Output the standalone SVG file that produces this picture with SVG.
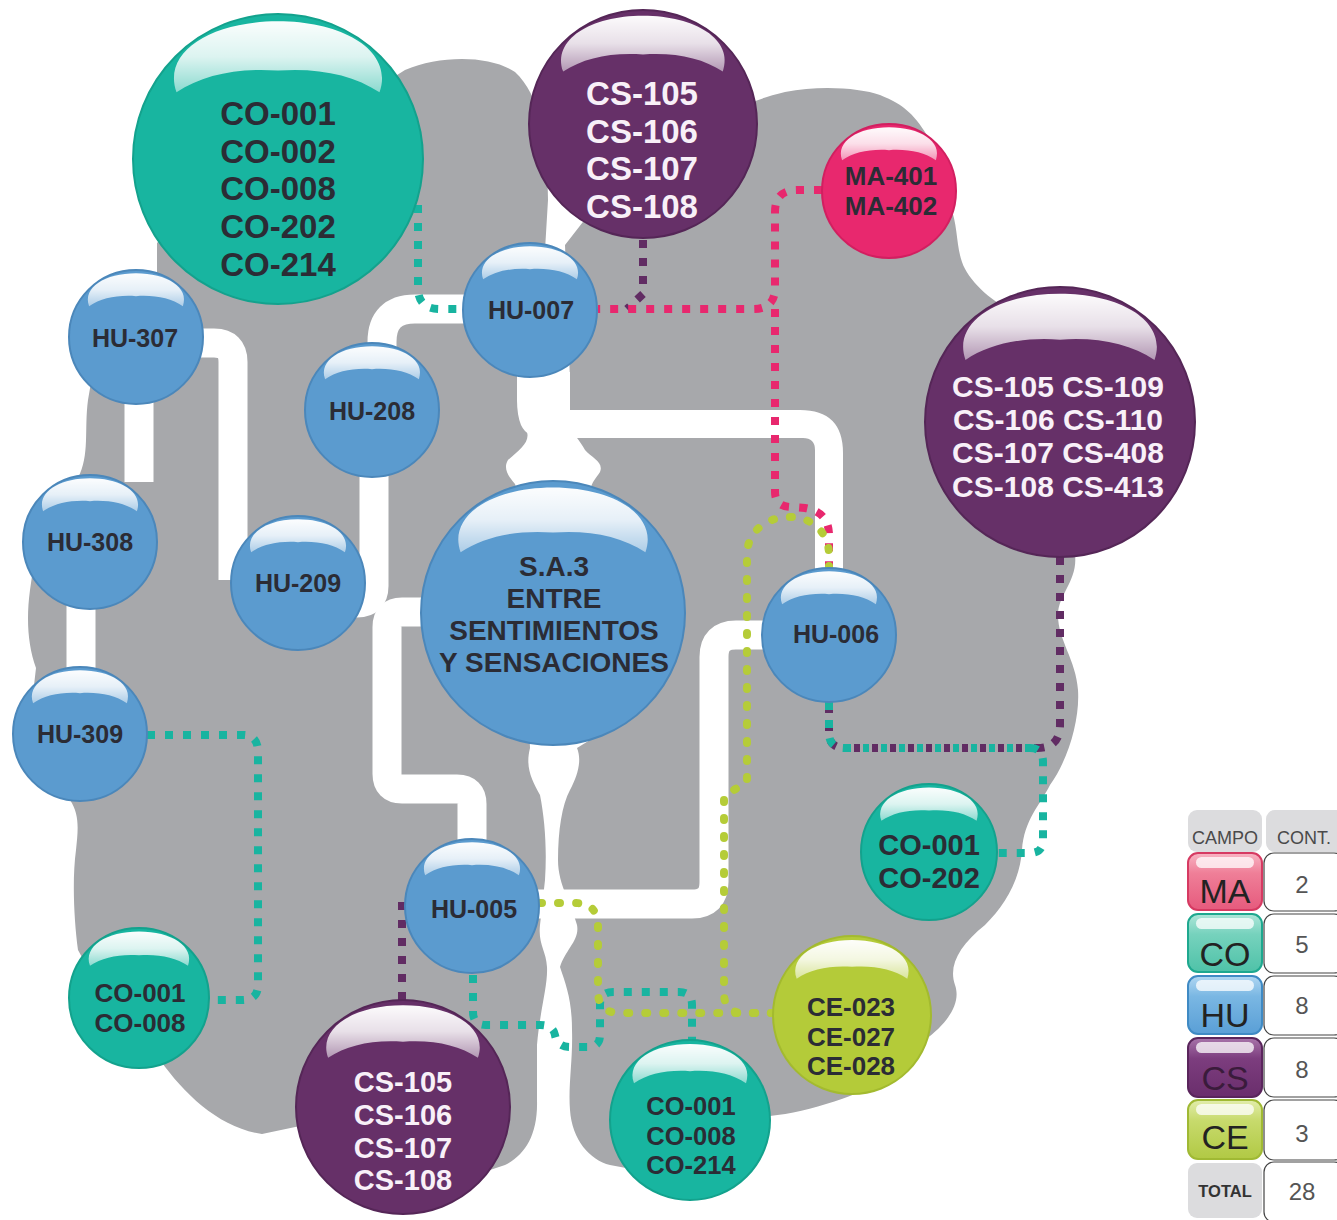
<svg xmlns="http://www.w3.org/2000/svg" width="1337" height="1220" viewBox="0 0 1337 1220">
<style>
.brain{fill:#a7a8ab}
.pipe{fill:none;stroke:#fff;stroke-width:29}
.dot{fill:none;stroke-width:8;stroke-dasharray:8 10}
.tl{stroke:#18b4a0}.pu{stroke:#612c63}.mg{stroke:#e8286e}.lm{stroke:#b5cc38;stroke-linecap:round;stroke-dasharray:2 16}
.hu{fill:#5b9bcf;stroke:#4b87ba;stroke-width:2}
.co{fill:#18b5a0;stroke:#13a28d;stroke-width:2}
.cs{fill:#663068;stroke:#552657;stroke-width:2}
.ma{fill:#e8286e;stroke:#d21f60;stroke-width:2}
.ce{fill:#b4cb39;stroke:#a3ba2f;stroke-width:2}
text{font-family:"Liberation Sans",Arial,sans-serif;font-weight:bold;text-anchor:middle;fill:#2b2c35}
.w{fill:#f8f0f8}
.lg{font-weight:normal;font-size:34px;fill:#222}
.hd{font-weight:normal;font-size:18px;fill:#4a4a4a}
.num{font-weight:normal;font-size:24px;fill:#555}
.cell{fill:#fff;stroke:#444;stroke-width:1.2}
.head{fill:#dcdcde}
.shine{fill:#fff;opacity:.75}
</style>
<defs>
<linearGradient id="hlg" x1="0" y1="0" x2="0" y2="1">
<stop offset="0" stop-color="#fff" stop-opacity="0.98"/>
<stop offset="0.5" stop-color="#fff" stop-opacity="0.85"/>
<stop offset="1" stop-color="#fff" stop-opacity="0.5"/>
</linearGradient>
<path id="hl" d="M -70,-46 C -80,-74 -46,-95 0,-95 C 46,-95 80,-74 70,-46 C 52,-58 28,-63 0,-61 C -28,-63 -52,-58 -70,-46 Z" fill="url(#hlg)"/>
<linearGradient id="gMA" x1="0" y1="0" x2="0" y2="1"><stop offset="0" stop-color="#f8b4c3"/><stop offset="0.35" stop-color="#ef7f98"/><stop offset="1" stop-color="#e65a7d"/></linearGradient>
<linearGradient id="gCO" x1="0" y1="0" x2="0" y2="1"><stop offset="0" stop-color="#aee6d9"/><stop offset="0.35" stop-color="#76d2bd"/><stop offset="1" stop-color="#4fc2a8"/></linearGradient>
<linearGradient id="gHU" x1="0" y1="0" x2="0" y2="1"><stop offset="0" stop-color="#b0d7f2"/><stop offset="0.35" stop-color="#7ab7e3"/><stop offset="1" stop-color="#5a9fd6"/></linearGradient>
<linearGradient id="gCS" x1="0" y1="0" x2="0" y2="1"><stop offset="0" stop-color="#a874aa"/><stop offset="0.35" stop-color="#7c3d7e"/><stop offset="1" stop-color="#6a2e6c"/></linearGradient>
<linearGradient id="gCE" x1="0" y1="0" x2="0" y2="1"><stop offset="0" stop-color="#e2edac"/><stop offset="0.35" stop-color="#c7da6c"/><stop offset="1" stop-color="#b1c944"/></linearGradient>
</defs>

<g id="background">
<path class="brain" d="M 157,243 L 157,278 L 100,330 L 88,400 C 84,430 90,455 78,478 L 40,520 L 30,590 C 26,620 28,645 36,668 L 30,720 L 70,800 C 80,815 78,830 76,850 C 72,880 74,920 78,950 L 100,990 L 160,1060 C 185,1095 220,1128 262,1134 L 300,1126 L 400,1200 L 505,1165 C 525,1155 538,1135 537,1100 L 537,1045 C 540,1010 548,985 547,967 C 546,950 538,945 540,925 L 545,880 C 547,850 545,820 540,795 C 532,780 525,768 530,748 L 520,500 L 515,484 C 508,476 503,468 508,460 C 520,450 530,442 527,432 L 517,400 L 545,250 L 548,200 C 548,140 540,95 515,72 C 490,55 440,55 405,70 L 200,200 Z"/>
<path class="brain" d="M 565,245 L 570,380 L 570,420 C 572,435 580,440 585,450 C 592,458 604,462 600,472 C 596,478 592,482 590,490 L 590,740 L 577,748 C 582,760 578,775 570,790 C 562,805 558,830 558,860 C 558,885 572,905 577,925 C 580,940 565,950 560,967 C 566,985 572,1000 572,1030 C 573,1060 568,1085 570,1110 C 572,1140 590,1160 610,1165 L 690,1180 L 770,1116 C 810,1112 860,1095 895,1075 L 925,1040 C 945,1025 962,1005 955,985 C 948,965 960,945 985,925 C 1005,905 1020,880 1022,850 C 1024,820 1040,805 1050,785 C 1068,760 1080,720 1078,690 C 1076,660 1058,640 1058,615 C 1058,595 1078,580 1075,555 L 1010,310 C 990,300 968,280 962,262 C 956,245 958,225 950,205 L 930,140 C 915,115 905,105 880,95 C 860,88 820,85 785,92 C 760,98 748,104 740,108 L 600,200 Z"/>
</g>

<g id="connectors">
<path class="pipe" d="M 198,343 H 214 Q 233,343 233,362 V 580" stroke-width="30"/>
<path class="pipe" d="M 139,398 V 482"/>
<path class="pipe" d="M 81,604 V 672" stroke-width="28"/>
<path class="pipe" d="M 374,470 V 586 Q 374,603 357,603 H 350" stroke-width="28"/>
<path class="pipe" d="M 382,360 V 342 Q 382,309 415,309 H 470" stroke-width="30"/>
<path d="M 517,372 H 570 V 410 H 800 Q 843,410 843,453 V 578 H 815 V 450 Q 815,438 803,438 H 545 Q 527,438 521,425 Q 517,415 517,400 Z" fill="#fff"/>
<path class="pipe" d="M 430,612 H 402 Q 387,612 387,627 V 774 Q 387,789 402,789 H 457 Q 472,789 472,804 V 850"/>
<path class="pipe" d="M 770,635 H 736 Q 714,635 714,657 V 882 Q 714,904 692,904 H 530"/>

<path class="dot tl" d="M 418,205 V 288 Q 418,309 440,309 H 465"/>
<path class="dot pu" d="M 643,240 V 294 L 627,309"/>
<path class="dot mg" d="M 822,190 H 797 Q 775,190 775,212 V 288 Q 775,309 753,309 H 598"/>
<path class="dot mg" d="M 775,309 V 492 Q 775,507 792,507 L 805,508 Q 829,512 829,535 V 570"/>
<path class="dot tl" d="M 147,735 H 243 Q 258,735 258,752 V 985 Q 258,1000 242,1000 H 209"/>
<path class="dot pu" d="M 402,902 V 1002"/>
<path class="dot tl" d="M 473,975 V 1012 Q 473,1025 486,1025 H 540 Q 553,1025 555,1035 Q 557,1047 570,1047 H 588 Q 600,1047 600,1035 V 1005 Q 600,992 613,992 H 679 Q 692,992 692,1005 V 1040"/>
<path class="dot pu" d="M 1060,557 V 725 Q 1060,748 1037,748"/>
<path class="dot pu" d="M 854,748 H 1037" style="stroke-dasharray:6 12"/>
<path class="dot pu" d="M 845,748 Q 829,748 829,733 V 702" style="stroke-dashoffset:9"/>
<path class="dot tl" d="M 829,702 V 733 Q 829,748 845,748"/>
<path class="dot tl" d="M 845,748 H 1030" style="stroke-dasharray:6 12"/>
<path class="dot tl" d="M 1030,748 Q 1043,748 1043,762 V 840 Q 1043,853 1030,853 H 997"/>
<path class="dot lm" d="M 829,568 V 555 C 829,532 812,517 789,517 C 766,517 747,532 747,555 V 782 L 724,796 V 993 Q 724,1013 744,1013 H 772"/>
<path class="dot lm" d="M 540,903 H 575 Q 598,903 598,926 V 992 Q 598,1013 620,1013 H 772"/>
</g>

<g id="node-co-top"><circle class="co" cx="278" cy="159" r="145"/><use href="#hl" transform="translate(278 159) scale(1.45)"/>
<text font-size="33"><tspan x="278" y="125">CO-001</tspan><tspan x="278" y="163">CO-002</tspan><tspan x="278" y="200">CO-008</tspan><tspan x="278" y="238">CO-202</tspan><tspan x="278" y="276">CO-214</tspan></text></g>

<g id="node-cs-top"><circle class="cs" cx="643" cy="124" r="114"/><use href="#hl" transform="translate(643 124) scale(1.14)"/>
<text class="w" font-size="33"><tspan x="642" y="105">CS-105</tspan><tspan x="642" y="143">CS-106</tspan><tspan x="642" y="180">CS-107</tspan><tspan x="642" y="218">CS-108</tspan></text></g>

<g id="node-ma"><circle class="ma" cx="889" cy="191" r="67"/><use href="#hl" transform="translate(889 191) scale(0.67)"/>
<text font-size="26"><tspan x="891" y="185">MA-401</tspan><tspan x="891" y="215">MA-402</tspan></text></g>

<g id="node-cs-right"><circle class="cs" cx="1060" cy="422" r="135"/><use href="#hl" transform="translate(1060 422) scale(1.35)"/>
<text class="w" font-size="30"><tspan x="1058" y="397">CS-105 CS-109</tspan><tspan x="1058" y="430">CS-106 CS-110</tspan><tspan x="1058" y="463">CS-107 CS-408</tspan><tspan x="1058" y="497">CS-108 CS-413</tspan></text></g>

<g id="node-hu007"><circle class="hu" cx="530" cy="310" r="67"/><use href="#hl" transform="translate(530 310) scale(0.67)"/><text x="531" y="319" font-size="25">HU-007</text></g>
<g id="node-hu307"><circle class="hu" cx="136" cy="337" r="67"/><use href="#hl" transform="translate(136 337) scale(0.67)"/><text x="135" y="347" font-size="25">HU-307</text></g>
<g id="node-hu208"><circle class="hu" cx="372" cy="410" r="67"/><use href="#hl" transform="translate(372 410) scale(0.67)"/><text x="372" y="420" font-size="25">HU-208</text></g>
<g id="node-hu308"><circle class="hu" cx="90" cy="542" r="67"/><use href="#hl" transform="translate(90 542) scale(0.67)"/><text x="90" y="551" font-size="25">HU-308</text></g>
<g id="node-hu209"><circle class="hu" cx="298" cy="583" r="67"/><use href="#hl" transform="translate(298 583) scale(0.67)"/><text x="298" y="592" font-size="25">HU-209</text></g>
<g id="node-hu309"><circle class="hu" cx="80" cy="734" r="67"/><use href="#hl" transform="translate(80 734) scale(0.67)"/><text x="80" y="743" font-size="25">HU-309</text></g>

<g id="node-sa3"><circle class="hu" cx="553" cy="613" r="132"/><use href="#hl" transform="translate(553 613) scale(1.32)"/>
<text font-size="28"><tspan x="554" y="576">S.A.3</tspan><tspan x="554" y="608">ENTRE</tspan><tspan x="554" y="640">SENTIMIENTOS</tspan><tspan x="554" y="672">Y SENSACIONES</tspan></text></g>

<g id="node-hu006"><circle class="hu" cx="829" cy="635" r="67"/><use href="#hl" transform="translate(829 635) scale(0.67)"/><text x="836" y="643" font-size="25">HU-006</text></g>
<g id="node-hu005"><circle class="hu" cx="472" cy="906" r="67"/><use href="#hl" transform="translate(472 906) scale(0.67)"/><text x="474" y="918" font-size="25">HU-005</text></g>

<g id="node-co-left"><circle class="co" cx="139" cy="998" r="70"/><use href="#hl" transform="translate(139 998) scale(0.7)"/>
<text font-size="26"><tspan x="140" y="1002">CO-001</tspan><tspan x="140" y="1032">CO-008</tspan></text></g>

<g id="node-cs-bottom"><circle class="cs" cx="403" cy="1107" r="107"/><use href="#hl" transform="translate(403 1107) scale(1.07)"/>
<text class="w" font-size="29"><tspan x="403" y="1092">CS-105</tspan><tspan x="403" y="1125">CS-106</tspan><tspan x="403" y="1158">CS-107</tspan><tspan x="403" y="1190">CS-108</tspan></text></g>

<g id="node-co-bottom"><circle class="co" cx="690" cy="1120" r="80"/><use href="#hl" transform="translate(690 1120) scale(0.8)"/>
<text font-size="25.5"><tspan x="691" y="1115">CO-001</tspan><tspan x="691" y="1145">CO-008</tspan><tspan x="691" y="1174">CO-214</tspan></text></g>

<g id="node-ce"><circle class="ce" cx="852" cy="1015" r="79"/><use href="#hl" transform="translate(852 1015) scale(0.79)"/>
<text font-size="26"><tspan x="851" y="1016">CE-023</tspan><tspan x="851" y="1046">CE-027</tspan><tspan x="851" y="1075">CE-028</tspan></text></g>

<g id="node-co-right"><circle class="co" cx="929" cy="852" r="68"/><use href="#hl" transform="translate(929 852) scale(0.68)"/>
<text font-size="29"><tspan x="929" y="855">CO-001</tspan><tspan x="929" y="888">CO-202</tspan></text></g>

<g id="legend">
<rect class="head" x="1188" y="810" width="74" height="42" rx="9"/><text class="hd" x="1225" y="844">CAMPO</text>
<rect class="head" x="1266" y="810" width="80" height="42" rx="9"/><text class="hd" x="1304" y="844" font-size="19">CONT.</text>
<g id="legend-ma"><rect x="1188" y="853" width="74" height="57" rx="10" fill="url(#gMA)" stroke="#d63a62" stroke-width="2"/><rect class="shine" x="1196" y="857" width="58" height="11" rx="5.5"/><text class="lg" x="1225" y="903">MA</text>
<rect class="cell" x="1264" y="853" width="80" height="58" rx="10"/><text class="num" x="1302" y="893">2</text></g>
<g id="legend-co"><rect x="1188" y="914" width="74" height="58" rx="10" fill="url(#gCO)" stroke="#1ea88f" stroke-width="2"/><rect class="shine" x="1196" y="918" width="58" height="11" rx="5.5"/><text class="lg" x="1225" y="966">CO</text>
<rect class="cell" x="1264" y="914" width="80" height="59" rx="10"/><text class="num" x="1302" y="953">5</text></g>
<g id="legend-hu"><rect x="1188" y="976" width="74" height="58" rx="10" fill="url(#gHU)" stroke="#3f8ac4" stroke-width="2"/><rect class="shine" x="1196" y="980" width="58" height="11" rx="5.5"/><text class="lg" x="1225" y="1027">HU</text>
<rect class="cell" x="1264" y="976" width="80" height="59" rx="10"/><text class="num" x="1302" y="1014">8</text></g>
<g id="legend-cs"><rect x="1188" y="1038" width="74" height="59" rx="10" fill="url(#gCS)" stroke="#5a255c" stroke-width="2"/><rect class="shine" x="1196" y="1042" width="58" height="11" rx="5.5"/><text class="lg" x="1225" y="1090" style="fill:#3a1b3b">CS</text>
<rect class="cell" x="1264" y="1038" width="80" height="59" rx="10"/><text class="num" x="1302" y="1078">8</text></g>
<g id="legend-ce"><rect x="1188" y="1100" width="74" height="59" rx="10" fill="url(#gCE)" stroke="#a0b934" stroke-width="2"/><rect class="shine" x="1196" y="1104" width="58" height="11" rx="5.5"/><text class="lg" x="1225" y="1149">CE</text>
<rect class="cell" x="1264" y="1100" width="80" height="60" rx="10"/><text class="num" x="1302" y="1142">3</text></g>
<g id="legend-total"><rect class="head" x="1188" y="1163" width="74" height="55" rx="9"/><text x="1225" y="1197" font-size="16.5" style="fill:#333">TOTAL</text>
<rect class="cell" x="1264" y="1162" width="80" height="60" rx="10"/><text class="num" x="1302" y="1200">28</text></g>
</g>
</svg>
